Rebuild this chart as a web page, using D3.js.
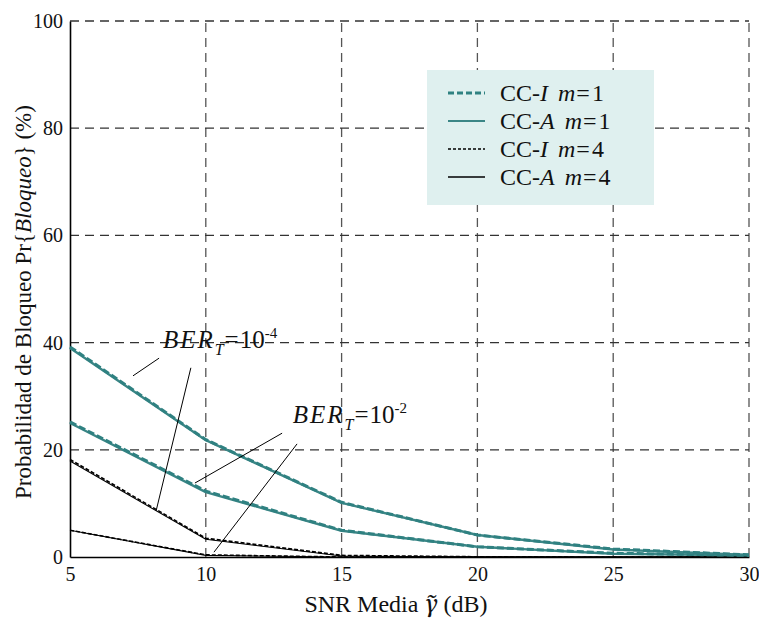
<!DOCTYPE html>
<html><head><meta charset="utf-8">
<script src="https://cdn.jsdelivr.net/npm/d3@7"></script>
</head><body><svg id="c" width="759" height="623"></svg>
<script>
const snr = [5, 10, 15, 20, 25, 30];
const xTicks = [5, 10, 15, 20, 25, 30];
const yTicks = [0, 20, 40, 60, 80, 100];
// BER_T = 1e-4
const ccI_m1_b4 = [39.2, 21.9, 10.2, 4.1, 1.5, 0.4];
const ccA_m1_b4 = [39.0, 21.8, 10.1, 4.1, 1.4, 0.4];
const ccI_m4_b4 = [18.2, 3.5, 0.3, 0.05, 0.0, 0.0];
const ccA_m4_b4 = [17.9, 3.3, 0.2, 0.0, 0.0, 0.0];
// BER_T = 1e-2
const ccI_m1_b2 = [25.2, 12.3, 5.0, 1.9, 0.7, 0.3];
const ccA_m1_b2 = [25.0, 12.1, 4.9, 1.9, 0.6, 0.3];
const ccI_m4_b2 = [5.0, 0.4, 0.0, 0.0, 0.0, 0.0];
const ccA_m4_b2 = [5.0, 0.3, 0.0, 0.0, 0.0, 0.0];

const legendLabels = [["CC-", "I", "m", "=1"], ["CC-", "A", "m", "=1"], ["CC-", "I", "m", "=4"], ["CC-", "A", "m", "=4"]];

d3.select("body").style("margin", "0px");
const SERIF = "Liberation Serif";
const svg = d3.select("#c").style("display", "block").attr("font-family", SERIF);
const L = 70, R = 749, T = 21, B = 557;
const x = d3.scaleLinear().domain([5, 30]).range([L, R]);
const y = d3.scaleLinear().domain([0, 100]).range([B, T]);

const teal = "#3b8686", tealDash = "#2f8181";
const styles = [
  {color: tealDash, w: 3, dash: "7,3"},
  {color: teal, w: 2.4, dash: null},
  {color: "#000", w: 1.6, dash: "4,2"},
  {color: "#000", w: 1.1, dash: null}
];

// grid
const g = svg.append("g");
g.selectAll(".gx").data(xTicks.filter(d => d !== 5)).join("line")
  .attr("x1", d => x(d)).attr("x2", d => x(d)).attr("y1", y(0)).attr("y2", y(100))
  .attr("stroke", "#555").attr("stroke-width", 1.3).attr("stroke-dasharray", "9,6");
g.selectAll(".gy").data(yTicks.filter(d => d !== 0)).join("line")
  .attr("x1", x(5)).attr("x2", x(30)).attr("y1", d => y(d)).attr("y2", d => y(d))
  .attr("stroke", "#333").attr("stroke-width", 1.3).attr("stroke-dasharray", "9,6");

// axes
const xAxis = svg.append("g").attr("transform", `translate(0,${B})`)
  .call(d3.axisBottom(x).tickValues(xTicks).tickSize(0).tickPadding(10).tickFormat(d3.format("d")));
const yAxis = svg.append("g").attr("transform", `translate(${L},0)`)
  .call(d3.axisLeft(y).tickValues(yTicks).tickSize(0).tickPadding(7).tickFormat(d3.format("d")));
[xAxis, yAxis].forEach(a => {
  a.attr("font-family", SERIF).attr("font-size", 20);
  a.select(".domain").attr("stroke", "#000").attr("stroke-width", 1.6);
  a.selectAll("text").attr("fill", "#111").attr("font-family", SERIF).attr("font-size", 20);
});

// series
const line = d3.line().x((d, i) => x(snr[i])).y(d => y(d));
function draw(vals, s) {
  svg.append("path").datum(vals).attr("d", line).attr("fill", "none")
    .attr("stroke", s.color).attr("stroke-width", s.w)
    .attr("stroke-dasharray", s.dash).attr("stroke-linejoin", "round");
}
draw(ccA_m4_b2, styles[3]); draw(ccI_m4_b2, styles[2]);
draw(ccA_m4_b4, styles[3]); draw(ccI_m4_b4, styles[2]);
draw(ccA_m1_b2, styles[1]); draw(ccI_m1_b2, styles[0]);
draw(ccA_m1_b4, styles[1]); draw(ccI_m1_b4, styles[0]);

// annotations (data coordinates)
const annLines = [
  [[7.32, 33.8], [8.28, 37.1]],
  [[9.45, 35.3], [8.17, 8.6]],
  [[12.81, 23.1], [9.60, 13.8]],
  [[13.36, 21.1], [10.30, 0.9]]
];
svg.selectAll(".ann").data(annLines).join("line")
  .attr("x1", d => x(d[0][0])).attr("y1", d => y(d[0][1]))
  .attr("x2", d => x(d[1][0])).attr("y2", d => y(d[1][1]))
  .attr("stroke", "#000").attr("stroke-width", 1);

const annText = [{x: 8.42, y: 39.0, exp: "-4"}, {x: 13.2, y: 25.0, exp: "-2"}];
annText.forEach(a => {
  const t = svg.append("text").attr("x", x(a.x)).attr("y", y(a.y))
    .attr("font-family", SERIF).attr("font-size", 25).attr("fill", "#111");
  t.append("tspan").attr("font-style", "italic").attr("letter-spacing", 2).text("BER");
  t.append("tspan").attr("font-style", "italic").attr("font-size", 16).attr("dy", 7).text("T");
  t.append("tspan").attr("dy", -7).attr("dx", 1).text("=");
  t.append("tspan").attr("dx", 1).text("10");
  t.append("tspan").attr("font-size", 15).attr("dy", -10).text(a.exp);
});

// legend
const lg = svg.append("g");
lg.append("rect").attr("x", 427).attr("y", 70).attr("width", 227).attr("height", 135).attr("fill", "#dff0ef");
legendLabels.forEach((lab, i) => {
  const yy = 93 + i * 28;
  lg.append("line").attr("x1", 448).attr("x2", 485).attr("y1", yy).attr("y2", yy)
    .attr("stroke", styles[i].color).attr("stroke-width", i === 0 ? 3.2 : (i === 1 ? 1.8 : 1.3))
    .attr("stroke-dasharray", styles[i].dash ? (i === 0 ? "6,3" : "3,2") : null);
  const t = lg.append("text").attr("x", 500).attr("y", yy + 8)
    .attr("font-family", SERIF).attr("font-size", 24).attr("fill", "#111");
  t.append("tspan").text(lab[0]);
  t.append("tspan").attr("font-style", "italic").text(lab[1]);
  t.append("tspan").attr("font-style", "italic").attr("dx", 10).text(lab[2]);
  t.append("tspan").attr("dx", 1).attr("letter-spacing", 2).text(lab[3]);
});

// axis titles
const xt = svg.append("text").attr("x", 396).attr("y", 612).attr("text-anchor", "middle")
  .attr("font-family", SERIF).attr("font-size", 24).attr("fill", "#111");
xt.append("tspan").text("SNR Media ");
xt.append("tspan").attr("font-style", "italic").attr("font-family", "Noto Serif").text("γ\u0303");
xt.append("tspan").text(" (dB)");

const yt = svg.append("text").attr("transform", "translate(31,302) rotate(-90)")
  .attr("text-anchor", "middle").attr("font-family", SERIF).attr("font-size", 23).attr("fill", "#111");
yt.append("tspan").text("Probabilidad de Bloqueo Pr{");
yt.append("tspan").attr("font-style", "italic").text("Bloqueo");
yt.append("tspan").text("} (%)");
</script></body></html>
